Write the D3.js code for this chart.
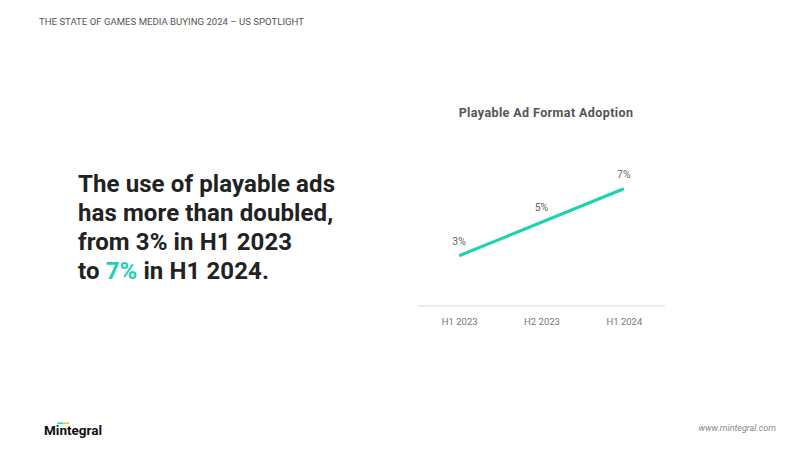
<!DOCTYPE html>
<html>
<head>
<meta charset="utf-8">
<script src="https://cdn.jsdelivr.net/npm/d3@7"></script>
<style>
  body { margin: 0; background: #fff; }
  svg { display: block; font-family: Roboto, "DejaVu Sans", sans-serif; }
</style>
</head>
<body>
<svg id="chart" width="800" height="450"></svg>
<script>
var periods = ['H1 2023', 'H2 2023', 'H1 2024'];
var adoption = [3, 5, 7];
var headline = [
  [{t: 'The use of playable ads'}],
  [{t: 'has more than doubled,'}],
  [{t: 'from 3% in H1 2023'}],
  [{t: 'to '}, {t: '7%', hi: true}, {t: ' in H1 2024.'}]
];

var TEAL = '#1dd3ad';
var svg = d3.select('#chart');

// header + footer
svg.append('text')
    .attr('x', 39).attr('y', 25)
    .attr('font-size', 9.6).attr('fill', '#555')
    .text('THE STATE OF GAMES MEDIA BUYING 2024 \u2013 US SPOTLIGHT');

svg.append('text')
    .attr('x', 776).attr('y', 431)
    .attr('text-anchor', 'end')
    .attr('font-size', 9).attr('font-style', 'italic').attr('fill', '#888')
    .text('www.mintegral.com');

var logo = svg.append('g').attr('transform', 'translate(44,435)');
logo.append('text')
    .attr('font-size', 13.5).attr('font-weight', 700).attr('fill', '#111')
    .text('Mintegral');
logo.append('rect').attr('x', 13.5).attr('y', -12.5).attr('width', 6).attr('height', 1.6).attr('fill', TEAL);
logo.append('rect').attr('x', 20).attr('y', -12.5).attr('width', 5).attr('height', 1.6).attr('fill', '#f3c623');

// headline
var hl = svg.append('text')
    .attr('x', 78).attr('font-size', 24).attr('font-weight', 700).attr('fill', '#222')
    .attr('letter-spacing', 0.1);
headline.forEach(function(line, i){
    line.forEach(function(part, j){
        var ts = hl.append('tspan').text(part.t);
        if (j === 0) ts.attr('x', 78).attr('y', 192 + i * 29);
        if (part.hi) ts.attr('fill', TEAL);
    });
});

// chart
var MARGINS = {left: 418, right: 665, top: 172, bottom: 306};
var x = d3.scalePoint().domain(periods).range([MARGINS.left, MARGINS.right]).padding(0.5);
var y = d3.scaleLinear().domain([0, 8]).range([MARGINS.bottom, MARGINS.top]);

svg.append('text')
    .attr('x', 546).attr('y', 117)
    .attr('text-anchor', 'middle')
    .attr('font-size', 12.5).attr('font-weight', 700).attr('fill', '#555')
    .attr('letter-spacing', 0.4)
    .text('Playable Ad Format Adoption');

var xAxis = svg.append('g')
    .attr('transform', 'translate(0,' + MARGINS.bottom + ')')
    .call(d3.axisBottom(x).tickSize(0).tickPadding(12));
xAxis.select('.domain').attr('stroke', '#d9d9d9').attr('d', 'M' + MARGINS.left + ',0H' + MARGINS.right);
xAxis.selectAll('text').attr('font-size', 9.5).attr('fill', '#777').attr('font-family', 'Roboto, sans-serif');

var pts = periods.map(function(p, i){ return {p: p, v: adoption[i]}; });
var line = d3.line().x(function(d){ return x(d.p); }).y(function(d){ return y(d.v); });

svg.append('path')
    .attr('d', line(pts))
    .attr('fill', 'none')
    .attr('stroke', TEAL)
    .attr('stroke-width', 3);

svg.selectAll('.lbl').data(pts).enter().append('text')
    .attr('class', 'lbl')
    .attr('x', function(d){ return x(d.p); })
    .attr('y', function(d){ return y(d.v) - 11; })
    .attr('text-anchor', 'middle')
    .attr('font-size', 10.5).attr('fill', '#666')
    .text(function(d){ return d.v + '%'; });
</script>
</body>
</html>
